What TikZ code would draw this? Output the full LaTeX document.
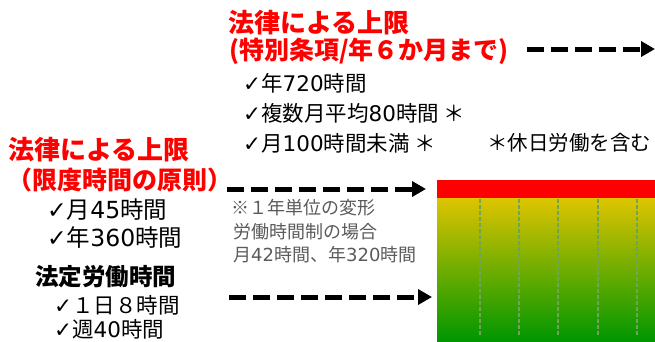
\documentclass[tikz,border=0pt]{standalone}
\usepackage{fontspec}
\setmainfont{Noto Sans CJK JP}
\newfontfamily\symfont{DejaVu Sans}
\usetikzlibrary{arrows.meta}
\definecolor{lawred}{RGB}{255,0,0}
\definecolor{notegray}{RGB}{90,90,90}
\definecolor{bandtop}{RGB}{222,196,0}
\definecolor{bandbot}{RGB}{0,150,0}
\definecolor{gridgreen}{RGB}{110,165,90}
\newcommand{\chk}{{\symfont ✓}}
\newcommand{\lat}[1]{{\symfont #1}}

\begin{document}
\begin{tikzpicture}[x=1pt,y=-1pt,
        head/.style={anchor=west,inner sep=0pt,text=lawred,
            font=\fontsize{26}{30}\selectfont\bfseries},
        subhead/.style={head,font=\fontsize{25}{29}\selectfont\bfseries},
        item/.style={anchor=west,inner sep=0pt,font=\fontsize{21.5}{25}\selectfont},
        bigitem/.style={item,font=\fontsize{23.5}{27}\selectfont},
        note/.style={anchor=west,inner sep=0pt,text=notegray,
            font=\fontsize{18}{21}\selectfont},
        limit/.style={line width=5pt,dash pattern=on 17pt off 7pt,
            -{Triangle[length=14pt,width=15pt]}}]
\useasboundingbox (0,0) rectangle (655,341);

\fill[lawred] (437,180) rectangle (655,198);
\shade[top color=bandtop,bottom color=bandbot] (437,198) rectangle (655,341);
\foreach \x in {480,519,558,598,637}
    \draw[gridgreen,line width=1.2pt,dash pattern=on 4pt off 2pt] (\x,199) -- (\x,336);

\node[head] (lawT) at (228,23) {法律による上限};
\node[subhead] (lawTsub) at (229,51) {(特別条項/年６か月まで)};
\node[item] (itemA) at (243,83) {\chk 年\lat{720}時間};
\node[item] (itemB) at (243,113) {\chk 複数月平均\lat{80}時間 ＊};
\node[item] (itemC) at (243,143) {\chk 月\lat{100}時間未満 ＊};
\node[item,font=\fontsize{20.5}{24}\selectfont] (holiday) at (487,143) {＊休日労働を含む};

\node[head] (lawL) at (8,150) {法律による上限};
\node[subhead] (lawLsub) at (7,180) {（限度時間の原則）};
\node[bigitem] (itemD) at (47,210) {\chk 月\lat{45}時間};
\node[bigitem] (itemE) at (47,238) {\chk 年\lat{360}時間};

\node[item,font=\fontsize{23.5}{27}\selectfont\bfseries] (std) at (35,277) {法定労働時間};
\node[item] (itemF) at (54,305) {\chk １日８時間};
\node[item] (itemG) at (54,329) {\chk 週\lat{40}時間};

\node[note] (varA) at (231,208) {※１年単位の変形};
\node[note] (varB) at (233,232) {労働時間制の場合};
\node[note] (varC) at (233,255) {月\lat{42}時間、年\lat{320}時間};

\coordinate (topS) at (527,49);  \coordinate (topE) at (655,49);
\coordinate (midS) at (227,189); \coordinate (midE) at (426,189);
\coordinate (lowS) at (229,297); \coordinate (lowE) at (432,297);
\draw[limit] (topS) -- (topE);
\draw[limit] (midS) -- (midE);
\draw[limit] (lowS) -- (lowE);
\end{tikzpicture}
\end{document}
